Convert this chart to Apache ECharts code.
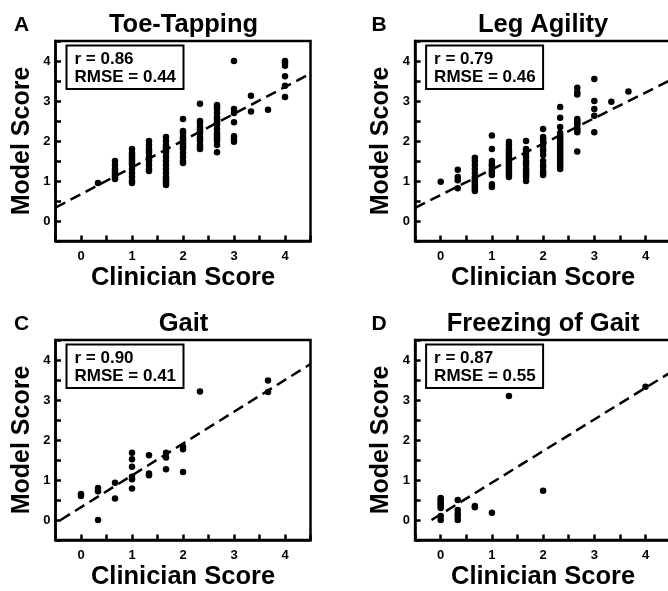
<!DOCTYPE html>
<html><head><meta charset="utf-8">
<script src="https://cdn.jsdelivr.net/npm/echarts@6/dist/echarts.min.js"></script>
<style>html,body{margin:0;padding:0;background:#fff}#c{width:668px;height:591px}</style>
</head><body><div id="c"></div>
<script>
const FONT = '"Liberation Sans", Arial, Helvetica, sans-serif';

const panelTitles = ['Toe-Tapping', 'Leg Agility', 'Gait', 'Freezing of Gait'];
const panelLetters = ['A', 'B', 'C', 'D'];
const statR = ['0.86', '0.79', '0.90', '0.87'];
const statRMSE = ['0.44', '0.46', '0.41', '0.55'];
const xAxisName = 'Clinician Score';
const yAxisName = 'Model Score';
const tickLabels = ['0', '1', '2', '3', '4'];

// columns: [clinician score, [model scores...]]
const toeTappingCols = [
  [0.333, [0.95]],
  [0.667, [1.05, 1.1, 1.15, 1.2, 1.25, 1.3, 1.4, 1.5]],
  [1, [0.95, 1.0, 1.1, 1.2, 1.3, 1.4, 1.45, 1.5, 1.55, 1.6, 1.65, 1.7, 1.8]],
  [1.333, [1.25, 1.3, 1.4, 1.5, 1.55, 1.6, 1.7, 1.75, 1.8, 1.9, 2.0]],
  [1.667, [0.9, 0.95, 1.0, 1.05, 1.1, 1.2, 1.3, 1.4, 1.5, 1.6, 1.7, 1.75, 1.8, 1.85, 1.9, 2.0, 2.1]],
  [2, [1.45, 1.5, 1.6, 1.7, 1.8, 1.85, 1.9, 1.95, 2.0, 2.05, 2.1, 2.2, 2.25, 2.55]],
  [2.333, [1.8, 1.85, 1.9, 2.0, 2.05, 2.1, 2.2, 2.25, 2.3, 2.35, 2.45, 2.5, 2.93]],
  [2.667, [1.72, 1.9, 2.0, 2.05, 2.1, 2.15, 2.2, 2.3, 2.4, 2.45, 2.5, 2.55, 2.6, 2.7, 2.8, 2.85, 2.9]],
  [3, [1.98, 2.05, 2.12, 2.47, 2.7, 2.8, 4.0]],
  [3.333, [2.74, 3.13]],
  [3.667, [2.78]],
  [4, [3.1, 3.38, 3.62, 3.88, 3.95, 4.0]]
];
const legAgilityCols = [
  [0, [0.98]],
  [0.333, [0.82, 1.02, 1.1, 1.28]],
  [0.667, [0.75, 0.8, 0.85, 0.9, 0.95, 1.0, 1.05, 1.1, 1.2, 1.3, 1.4, 1.5, 1.58]],
  [1, [0.85, 0.92, 1.15, 1.2, 1.25, 1.3, 1.38, 1.42, 1.5, 1.8, 2.14]],
  [1.333, [1.1, 1.15, 1.2, 1.25, 1.3, 1.35, 1.4, 1.45, 1.5, 1.55, 1.6, 1.65, 1.7, 1.75, 1.8, 1.9, 1.98]],
  [1.667, [1.0, 1.1, 1.15, 1.2, 1.25, 1.3, 1.4, 1.45, 1.5, 1.6, 1.7, 1.75, 1.8, 2.0]],
  [2, [1.15, 1.2, 1.25, 1.35, 1.4, 1.5, 1.65, 1.75, 1.8, 1.9, 2.0, 2.05, 2.1, 2.3]],
  [2.333, [1.3, 1.35, 1.4, 1.45, 1.5, 1.55, 1.6, 1.65, 1.7, 1.75, 1.8, 1.85, 1.9, 1.95, 2.0, 2.05, 2.1, 2.15, 2.2, 2.35, 2.58, 2.85]],
  [2.667, [1.74, 2.22, 2.27, 2.32, 2.4, 2.45, 2.5, 2.55, 3.16, 3.22, 3.33]],
  [3, [2.22, 2.63, 2.8, 3.0, 3.55]],
  [3.333, [2.98]],
  [3.667, [3.24]]
];
const gaitCols = [
  [0, [0.6, 0.65]],
  [0.333, [0.0, 0.72, 0.8]],
  [0.667, [0.54, 0.93]],
  [1, [0.79, 1.02, 1.08, 1.33, 1.52, 1.68]],
  [1.333, [1.12, 1.16, 1.62]],
  [1.667, [1.27, 1.56, 1.68]],
  [2, [1.2, 1.77, 1.83]],
  [2.333, [3.21]],
  [3.667, [3.2, 3.49]]
];
const freezingCols = [
  [0, [0.0, 0.1, 0.3, 0.35, 0.4, 0.45, 0.5, 0.55]],
  [0.333, [0.0, 0.08, 0.15, 0.25, 0.5]],
  [0.667, [0.32, 0.35]],
  [1, [0.18]],
  [1.333, [3.1]],
  [2, [0.73]],
  [4, [3.33]]
];

// dashed regression lines: endpoints
const toeTappingFit = [[-0.5, 0.335], [4.5, 3.685]];
const legAgilityFit = [[-0.5, 0.33], [4.5, 3.53]];
const gaitFit = [[-0.4, 0.0], [4.5, 3.9]];
const freezingFit = [[-0.18, 0.0], [4.5, 3.7]];

const allCols = [toeTappingCols, legAgilityCols, gaitCols, freezingCols];
const allFits = [toeTappingFit, legAgilityFit, gaitFit, freezingFit];

function flatten(cols) { return cols.flatMap(([x, ys]) => ys.map(y => [x, y])); }

const grids = [
  {left: 55.5, top: 41, width: 255, height: 200},
  {left: 415.1, top: 41, width: 256, height: 200},
  {left: 55.5, top: 340, width: 255, height: 200},
  {left: 415.1, top: 340, width: 256, height: 200}
];

const labelFmt = v => (Math.abs(v - Math.round(v)) < 1e-6 && tickLabels.includes(String(Math.round(v)))) ? String(Math.round(v)) : '';

const axisLineStyle = {show: true, onZero: false, lineStyle: {color: '#000', width: 2.5}};
const tickStyle = {show: true, inside: true, length: 5.5, lineStyle: {color: '#000', width: 2.5}};

const option = {
  animation: false,
  backgroundColor: '#fff',
  grid: grids.map(g => Object.assign({show: true, borderColor: '#000', borderWidth: 2.5, backgroundColor: 'transparent', outerBoundsMode: 'none', containLabel: false}, g)),
  xAxis: grids.map((g, i) => ({
    gridIndex: i, type: 'value', min: -0.5, max: 4.5, interval: 0.5, position: 'bottom', z: 5,
    axisLine: axisLineStyle,
    axisTick: tickStyle,
    splitLine: {show: false},
    axisLabel: {formatter: labelFmt, color: '#000', fontSize: 13, fontWeight: 'bold', fontFamily: FONT, margin: 9, showMinLabel: true, showMaxLabel: true},
    name: xAxisName, nameLocation: 'middle', nameGap: 24,
    nameTextStyle: {color: '#000', fontSize: 25.5, fontWeight: 'bold', fontFamily: FONT}
  })),
  yAxis: grids.map((g, i) => ({
    gridIndex: i, type: 'value', min: -0.5, max: 4.5, interval: 0.5, position: 'left', z: 5,
    axisLine: axisLineStyle,
    axisTick: tickStyle,
    splitLine: {show: false},
    axisLabel: {formatter: labelFmt, color: '#000', fontSize: 13, fontWeight: 'bold', fontFamily: FONT, margin: 5},
    name: yAxisName, nameLocation: 'middle', nameGap: 21,
    nameTextStyle: {color: '#000', fontSize: 25, fontWeight: 'bold', fontFamily: FONT}
  })),
  series: [].concat(...allCols.map((cols, i) => [
    {type: 'line', xAxisIndex: i, yAxisIndex: i, data: allFits[i], symbol: 'none', clip: true, silent: true,
     lineStyle: {color: '#000', width: 2.5, type: [11, 6]}, z: 3},
    {type: 'scatter', xAxisIndex: i, yAxisIndex: i, data: flatten(cols), symbol: 'circle', symbolSize: 6.5,
     itemStyle: {color: '#000', opacity: 1}, silent: true, z: 2}
  ])),
  graphic: [].concat(...grids.map((g, i) => [
    {type: 'text', x: g.left + 128, y: g.top - 16.5, silent: true,
     style: {text: panelTitles[i], fill: '#000', font: 'bold 25.5px ' + FONT, align: 'center', verticalAlign: 'middle'}},
    {type: 'text', x: g.left - 34 - (i % 2) * 2, y: g.top - 15.5, silent: true,
     style: {text: panelLetters[i], fill: '#000', font: 'bold 21px ' + FONT, align: 'center', verticalAlign: 'middle'}},
    {type: 'rect', shape: {x: g.left + 11, y: g.top + 4.5, width: 117, height: 43.5}, silent: true, z: 10,
     style: {fill: '#fff', stroke: '#000', lineWidth: 2}},
    {type: 'text', x: g.left + 19, y: g.top + 18.5, silent: true, z: 11,
     style: {text: 'r = ' + statR[i], fill: '#000', font: 'bold 17px ' + FONT, align: 'left', verticalAlign: 'middle'}},
    {type: 'text', x: g.left + 19, y: g.top + 36.5, silent: true, z: 11,
     style: {text: 'RMSE = ' + statRMSE[i], fill: '#000', font: 'bold 17px ' + FONT, align: 'left', verticalAlign: 'middle'}}
  ]))
};

const chart = echarts.init(document.getElementById('c'), null, {renderer: 'canvas'});
chart.setOption(option);
</script>
</body></html>
